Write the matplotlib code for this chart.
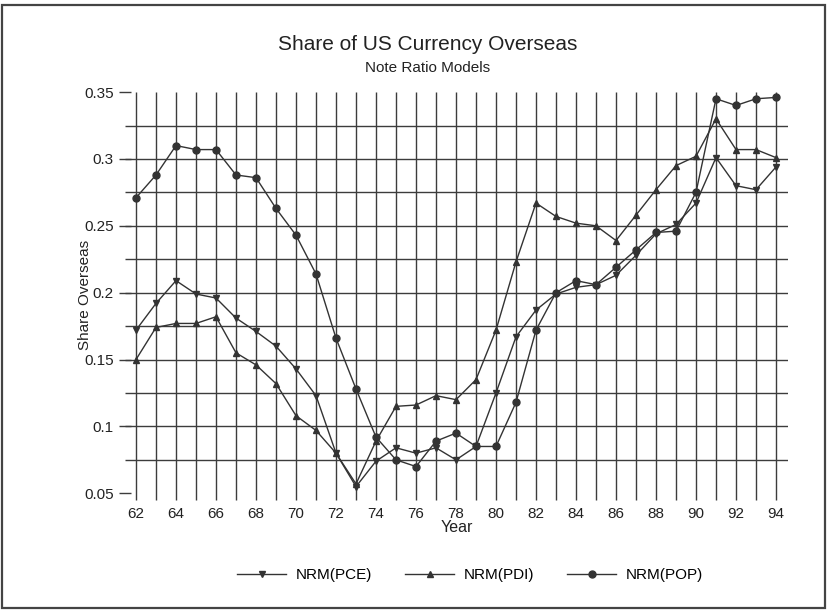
import numpy as np
import matplotlib.pyplot as plt
from matplotlib.patches import Rectangle

plt.rcParams["font.family"] = ["Liberation Sans", "DejaVu Sans"]

# Data -------------------------------------------------------------------
years = list(range(62, 95))

nrm_pce = [0.172, 0.192, 0.209, 0.199, 0.196, 0.181, 0.171, 0.160, 0.143,
           0.123, 0.080, 0.055, 0.074, 0.084, 0.080, 0.084, 0.075, 0.085,
           0.125, 0.167, 0.187, 0.199, 0.204, 0.206, 0.213, 0.228, 0.244,
           0.251, 0.267, 0.301, 0.280, 0.277, 0.294]

nrm_pdi = [0.150, 0.174, 0.177, 0.177, 0.182, 0.155, 0.146, 0.132, 0.108,
           0.097, 0.080, 0.057, 0.089, 0.115, 0.116, 0.123, 0.120, 0.135,
           0.172, 0.223, 0.267, 0.257, 0.252, 0.250, 0.239, 0.258, 0.277,
           0.295, 0.302, 0.330, 0.307, 0.307, 0.301]

nrm_pop = [0.271, 0.288, 0.310, 0.307, 0.307, 0.288, 0.286, 0.263, 0.243,
           0.214, 0.166, 0.128, 0.092, 0.075, 0.070, 0.089, 0.095, 0.085,
           0.085, 0.118, 0.172, 0.200, 0.209, 0.206, 0.219, 0.232, 0.245,
           0.246, 0.275, 0.345, 0.340, 0.345, 0.346]

y_ticks = [0.05, 0.1, 0.15, 0.2, 0.25, 0.3, 0.35]
y_tick_labels = ["0.05", "0.1", "0.15", "0.2", "0.25", "0.3", "0.35"]
x_ticks = list(range(62, 95, 2))

ink = "#333333"
grid_ink = "#3c3c3c"

# Plot ------------------------------------------------------------------
W, H = 827, 610
fig = plt.figure(figsize=(W / 100, H / 100), dpi=100)
ax = fig.add_axes([125 / W, 1 - 500.5 / H, (788 - 125) / W, (500.5 - 89) / H])

x0, x1 = 61.45, 94.6
y0, y1 = 0.0446, 0.3523
ax.set_xlim(x0, x1)
ax.set_ylim(y0, y1)
for s in ax.spines.values():
    s.set_visible(False)

# grid: one vertical line per year, horizontals every 0.025
ax.vlines(years, 0.0448, 0.35, color=grid_ink, lw=1.0, zorder=1)
ax.hlines(np.arange(0.075, 0.33, 0.025), x0, x1, color=grid_ink, lw=1.0,
          zorder=1)

ax.plot(years, nrm_pce, color=ink, lw=1.0, marker="v", ms=5,
        label="NRM(PCE)", zorder=3)
ax.plot(years, nrm_pdi, color=ink, lw=1.0, marker="^", ms=5,
        label="NRM(PDI)", zorder=3)
ax.plot(years, nrm_pop, color=ink, lw=1.0, marker="o", ms=5,
        label="NRM(POP)", zorder=3)

ax.set_yticks(y_ticks)
ax.set_yticklabels(y_tick_labels)
ax.set_xticks(x_ticks)
ax.set_xticklabels([str(x) for x in x_ticks])
ax.tick_params(axis="y", direction="inout", length=8, width=1.0,
               color=grid_ink, pad=4, labelsize=11, labelcolor="#222222")
ax.tick_params(axis="x", length=0, pad=5, labelsize=11, labelcolor="#222222")

fig.text(85 / W, 1 - 295 / H, "Share Overseas", rotation=90,
         ha="center", va="center", fontsize=11, color="#222222")
fig.text(457 / W, 1 - 528 / H, "Year", ha="center", va="center",
         fontsize=11.5, color="#222222")
fig.text(428 / W, 1 - 45 / H, "Share of US Currency Overseas",
         ha="center", va="center", fontsize=15, color="#222222")
fig.text(428 / W, 1 - 68 / H, "Note Ratio Models",
         ha="center", va="center", fontsize=11, color="#222222")

fig.legend(loc="center", bbox_to_anchor=(470 / W, 1 - 575 / H), ncol=3,
           frameon=False, fontsize=11, handlelength=3.2, columnspacing=2.2,
           handletextpad=0.6)

fig.add_artist(Rectangle((2 / W, 2 / H), 823 / W, 603 / H,
                         transform=fig.transFigure, fill=False,
                         edgecolor="#444444", lw=1.6))

fig.savefig("out.png", dpi=100)
